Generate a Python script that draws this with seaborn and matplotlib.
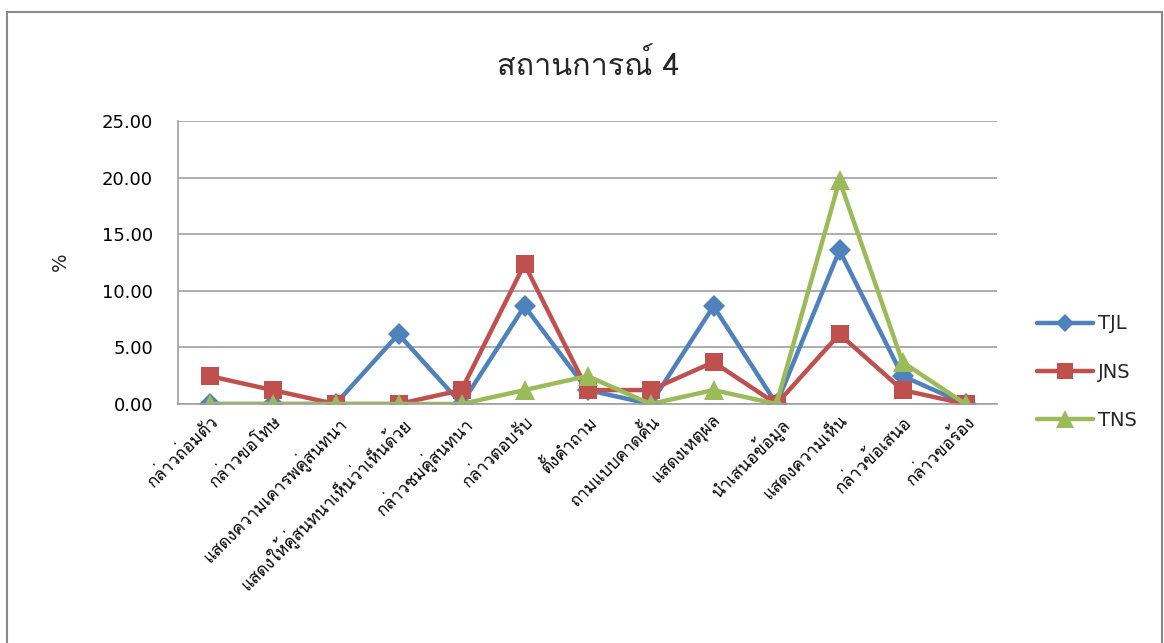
import matplotlib
matplotlib.use("Agg")
import matplotlib.pyplot as plt
import matplotlib.patches as mpatches
import seaborn as sns
import pandas as pd

categories = [
    "กล่าวถ่อมตัว", "กล่าวขอโทษ", "แสดงความเคารพคู่สนทนา",
    "แสดงให้คู่สนทนาเห็นว่าเห็นด้วย", "กล่าวชมคู่สนทนา", "กล่าวตอบรับ",
    "ตั้งคำถาม", "ถามแบบคาดคั้น", "แสดงเหตุผล", "นำเสนอข้อมูล",
    "แสดงความเห็น", "กล่าวข้อเสนอ", "กล่าวขอร้อง",
]
tjl = [0.00, 0.00, 0.00, 6.17, 0.00, 8.64, 1.23, 0.00, 8.64, 0.00, 13.58, 2.47, 0.00]
jns = [2.47, 1.23, 0.00, 0.00, 1.23, 12.35, 1.23, 1.23, 3.70, 0.00, 6.17, 1.23, 0.00]
tns = [0.00, 0.00, 0.00, 0.00, 0.00, 1.23, 2.47, 0.00, 1.23, 0.00, 19.75, 3.70, 0.00]
series_names = ["TJL", "JNS", "TNS"]
yticks = [0, 5, 10, 15, 20, 25]
title = "สถานการณ์ 4"
ylabel = "%"

rows = []
for name, vals in zip(series_names, [tjl, jns, tns]):
    for c, v in zip(categories, vals):
        rows.append({"cat": c, "val": v, "series": name})
df = pd.DataFrame(rows)

sns.set_theme(style="white")
plt.rcParams["font.family"] = ["DejaVu Sans"]
thai = ["Loma", "DejaVu Sans"]

W, H = 1164, 643
fig = plt.figure(figsize=(W / 100, H / 100), dpi=100)
L, R, T, B = 178, 997, 121, 404
ax = fig.add_axes([L / W, 1 - B / H, (R - L) / W, (B - T) / H])

palette = {"TJL": "#4F81BD", "JNS": "#C0504D", "TNS": "#9BBB59"}
markers = {"TJL": "D", "JNS": "s", "TNS": "^"}
sizes = {"TJL": 11, "JNS": 13, "TNS": 15}
for name in series_names:
    sub = df[df["series"] == name]
    sns.lineplot(data=sub, x="cat", y="val", ax=ax, color=palette[name],
                 marker=markers[name], markersize=sizes[name],
                 markeredgewidth=0, linewidth=3.2, label=name, sort=False)

ax.set_xlim(-0.5, len(categories) - 0.5)
ax.set_ylim(0, 25)
ax.set_yticks(yticks)
ax.set_yticklabels([f"{v:.2f}" for v in yticks], fontsize=13, color="#000000")
ax.tick_params(axis="y", length=0, pad=18)
ax.tick_params(axis="x", length=0, pad=6)
ax.set_xticks(range(len(categories)))
ax.set_xticklabels(categories, rotation=45, ha="right", va="top",
                   rotation_mode="anchor", fontsize=12.3, family=thai,
                   color="#000000")
ax.set_xlabel("")
ax.set_ylabel("")
ax.grid(axis="y", color="#A0A0A0", linewidth=1.2)
ax.set_axisbelow(True)
for s in ["top", "right"]:
    ax.spines[s].set_visible(False)
ax.spines["left"].set_color("#A0A0A0")
ax.spines["left"].set_linewidth(1.2)
ax.spines["bottom"].set_color("#A0A0A0")
ax.spines["bottom"].set_linewidth(1.2)

fig.text(588 / W, 1 - 65 / H, title, ha="center", va="center",
         fontsize=22, family=thai)
fig.text(60 / W, 1 - 262 / H, ylabel, ha="center", va="center",
         fontsize=14, rotation=90)

handles, labels = ax.get_legend_handles_labels()
leg = ax.legend(handles, labels, loc="upper left",
                bbox_to_anchor=(1019 / W, 1 - 297 / H),
                bbox_transform=fig.transFigure, frameon=False,
                fontsize=14, handlelength=2.9, labelspacing=1.5,
                handletextpad=0.25, markerscale=0.85)

fig.patches.append(mpatches.Rectangle((7 / W, -0.01), (1162 - 7) / W, 1.01 - 12 / H,
                                      transform=fig.transFigure, fill=False,
                                      edgecolor="#8A8A8A", linewidth=1.5))
fig.savefig("out.png", dpi=100)
